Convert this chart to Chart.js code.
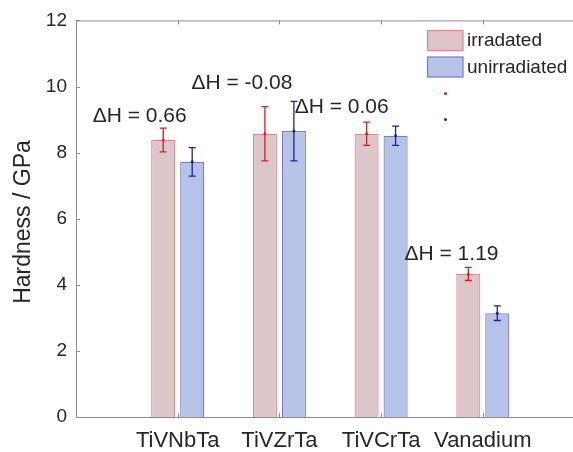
<!DOCTYPE html>
<html>
<head>
<meta charset="utf-8">
<script src="https://cdn.jsdelivr.net/npm/chart.js@4.4.1/dist/chart.umd.min.js"></script>
<style>
  html, body { margin: 0; padding: 0; background: #fff; overflow: hidden; }
  #wrap { width: 600px; height: 452px; }
</style>
</head>
<body>
<div id="wrap"><canvas id="hardnessChart" width="600" height="452"></canvas></div>
<script>
// Nanoindentation hardness, irradiated vs unirradiated (GPa)
const categories = ['', 'TiVNbTa', 'TiVZrTa', 'TiVCrTa', 'Vanadium', ''];
const irradiated = [null, 8.38, 8.57, 8.57, 4.33, null];
const unirradiated = [null, 7.72, 8.65, 8.51, 3.14, null];
const irradiatedErr = [null, 0.36, 0.82, 0.35, 0.20, null];
const unirradiatedErr = [null, 0.43, 0.90, 0.29, 0.22, null];
const yTicks = [0, 2, 4, 6, 8, 10, 12];

const FONT = "'Liberation Sans', Arial, Helvetica, sans-serif";
const TEXT = '#262626';
const AXIS = '#8c8c8c';

const IRR_FILL = '#dcc6c9';
const IRR_EDGE = '#e08888';
const IRR_BAR = '#cc2222';
const UNIRR_FILL = '#b5c3e9';
const UNIRR_EDGE = '#7a7ac6';
const UNIRR_BAR = '#22228c';

// where each ΔH note sits: [category units, GPa]
const deltaSpots = [[0.164, 9.09], [1.135, 10.1], [2.15, 9.37], [3.23, 4.92]];

const extras = {
    id: 'extras',
    afterDatasetsDraw(chart) {
        const ctx = chart.ctx;
        const y = chart.scales.y;
        const errs = [irradiatedErr, unirradiatedErr];
        const vals = [irradiated, unirradiated];
        const cols = [IRR_BAR, UNIRR_BAR];
        ctx.save();
        for (let d = 0; d < 2; d++) {
            const meta = chart.getDatasetMeta(d);
            ctx.strokeStyle = cols[d];
            ctx.fillStyle = cols[d];
            ctx.lineWidth = 1.3;
            meta.data.forEach((bar, i) => {
                const v = vals[d][i];
                if (v === null) return;
                const e = errs[d][i];
                const x = bar.x;
                const top = y.getPixelForValue(v + e);
                const bot = y.getPixelForValue(v - e);
                ctx.beginPath();
                ctx.moveTo(x, top); ctx.lineTo(x, bot);
                ctx.moveTo(x - 3.5, top); ctx.lineTo(x + 3.5, top);
                ctx.moveTo(x - 3.5, bot); ctx.lineTo(x + 3.5, bot);
                ctx.stroke();
                ctx.beginPath();
                ctx.arc(x, y.getPixelForValue(v), 1.5, 0, Math.PI * 2);
                ctx.fill();
            });
        }
        ctx.restore();
    },
    afterDraw(chart) {
        const ctx = chart.ctx;
        const area = chart.chartArea;
        const x = chart.scales.x;
        const y = chart.scales.y;
        ctx.save();

        // top edge of the box and inward tick marks
        ctx.strokeStyle = AXIS;
        ctx.lineWidth = 1;
        ctx.beginPath();
        ctx.moveTo(area.left, area.top + 0.5);
        ctx.lineTo(area.right, area.top + 0.5);
        for (let i = 1; i < categories.length - 1; i++) {
            const px = Math.round(x.getPixelForValue(i)) + 0.5;
            ctx.moveTo(px, area.top); ctx.lineTo(px, area.top + 4);
            ctx.moveTo(px, area.bottom); ctx.lineTo(px, area.bottom - 4);
        }
        yTicks.forEach(v => {
            const py = Math.round(y.getPixelForValue(v)) + 0.5;
            ctx.moveTo(area.left, py); ctx.lineTo(area.left + 4, py);
        });
        ctx.stroke();

        // ΔH notes
        ctx.fillStyle = TEXT;
        ctx.font = '21px ' + FONT;
        ctx.textAlign = 'left';
        ctx.textBaseline = 'middle';
        deltaSpots.forEach((p, k) => {
            const i = k + 1;
            const dh = (irradiated[i] - unirradiated[i]).toFixed(2);
            ctx.fillText('\u0394H = ' + dh, x.getPixelForValue(p[0]), y.getPixelForValue(p[1]));
        });

        // legend
        const entries = [
            { label: 'irradated', fill: IRR_FILL, edge: IRR_EDGE, top: 30.5 },
            { label: 'unirradiated', fill: UNIRR_FILL, edge: UNIRR_EDGE, top: 57 }
        ];
        ctx.font = '19px ' + FONT;
        entries.forEach(en => {
            ctx.fillStyle = en.fill;
            ctx.fillRect(427.5, en.top, 35.5, 20);
            ctx.strokeStyle = en.edge;
            ctx.lineWidth = 1.2;
            ctx.strokeRect(427.5, en.top, 35.5, 20);
            ctx.fillStyle = TEXT;
            ctx.fillText(en.label, 467, en.top + 10.5);
        });
        [[IRR_BAR, 93.5], [UNIRR_BAR, 119.5]].forEach(([c, py]) => {
            ctx.fillStyle = c;
            ctx.beginPath();
            ctx.arc(445.5, py, 1.5, 0, Math.PI * 2);
            ctx.fill();
        });

        // y axis title
        ctx.translate(24, 222);
        ctx.rotate(-Math.PI / 2);
        ctx.textAlign = 'center';
        ctx.fillStyle = TEXT;
        ctx.font = '23px ' + FONT;
        ctx.fillText('Hardness / GPa', 0, 0);
        ctx.restore();
    }
};

new Chart(document.getElementById('hardnessChart'), {
    type: 'bar',
    data: {
        labels: categories,
        datasets: [{
            label: 'irradated',
            data: irradiated,
            backgroundColor: IRR_FILL,
            borderColor: IRR_EDGE,
            borderWidth: 1.2
        }, {
            label: 'unirradiated',
            data: unirradiated,
            backgroundColor: UNIRR_FILL,
            borderColor: UNIRR_EDGE,
            borderWidth: 1.2
        }]
    },
    options: {
        responsive: false,
        animation: false,
        devicePixelRatio: 1,
        categoryPercentage: 0.57,
        barPercentage: 0.83,
        layout: { padding: { left: 0, top: 17, right: 15.5, bottom: 0 } },
        plugins: {
            legend: { display: false },
            tooltip: { enabled: false }
        },
        scales: {
            x: {
                offset: false,
                grid: { display: false, drawTicks: false },
                border: { display: true, color: AXIS, width: 1 },
                ticks: {
                    autoSkip: false,
                    maxRotation: 0,
                    padding: 11,
                    color: TEXT,
                    font: { family: FONT, size: 22 }
                },
                afterFit(scale) { scale.height = 35; }
            },
            y: {
                min: 0,
                max: 12,
                grid: { display: false, drawTicks: false },
                border: { display: true, color: AXIS, width: 1 },
                ticks: {
                    padding: 9,
                    color: TEXT,
                    font: { family: FONT, size: 19 }
                },
                afterBuildTicks(scale) { scale.ticks = yTicks.map(v => ({ value: v })); },
                afterFit(scale) { scale.width = 76; }
            }
        }
    },
    plugins: [extras]
});
</script>
</body>
</html>
